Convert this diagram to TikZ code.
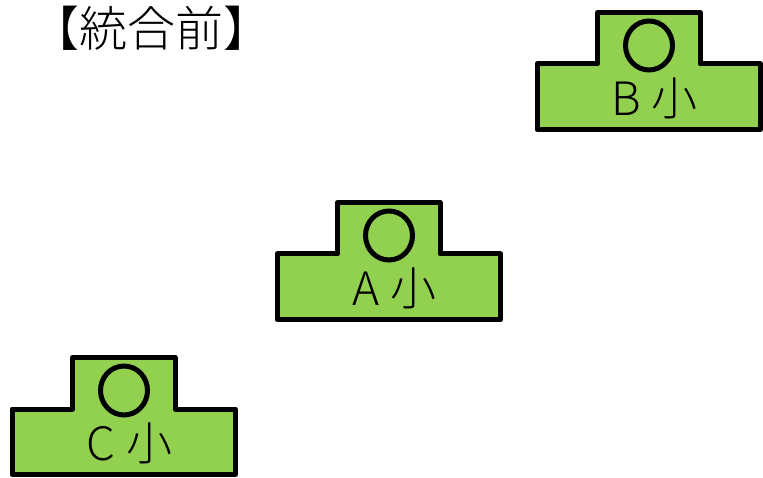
\documentclass[tikz,border=0pt]{standalone}
\usepackage{fontspec}
\setmainfont{Noto Sans CJK JP Light}
\definecolor{blockgreen}{HTML}{92D050}
\tikzset{
  blockshape/.style={draw=black,fill=blockgreen,line width=5pt,line join=round},
  blockring/.style={draw=black,line width=5pt},
  blocklabel/.style={font=\fontsize{46pt}{46pt}\selectfont,inner sep=0pt,anchor=center},
  titletext/.style={font=\fontsize{48pt}{48pt}\selectfont,inner sep=0pt,anchor=center},
  pics/schoolblock/.style={code={
    \path[blockshape] (0,0) -- (0,-65.5) -- (223.5,-65.5) -- (223.5,0) -- (163,0) -- (163,51.5) -- (60.5,51.5) -- (60.5,0) -- cycle;
    \path[blockring] (112,18.5) ellipse [x radius=23.5pt,y radius=24.5pt];
    \node[blocklabel] (#1) at (117.5,-34) {#1 小};
  }}
}
\begin{document}
\begin{tikzpicture}[x=1pt,y=1pt]
\useasboundingbox (0,0) rectangle (763,477);
\node[titletext] (title) at (151,449) {【統合前】};
\pic at (537,413) {schoolblock=B};
\pic at (277,223) {schoolblock=A};
\pic at (12,68) {schoolblock=C};
\end{tikzpicture}
\end{document}
